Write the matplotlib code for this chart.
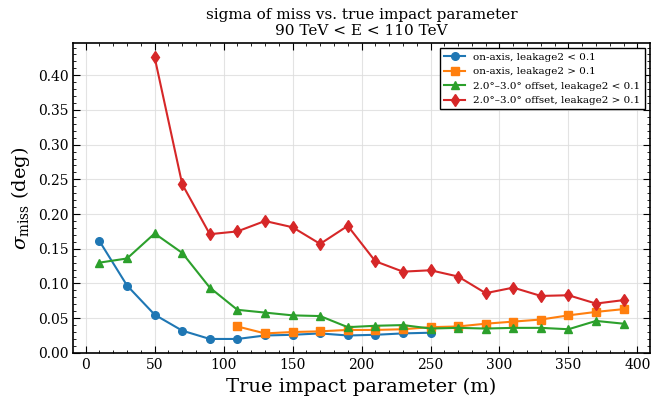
import matplotlib
matplotlib.use("Agg")
import matplotlib.pyplot as plt

plt.rcParams['font.family'] = 'DejaVu Serif'
plt.rcParams['mathtext.fontset'] = 'dejavuserif'

x_all = [10, 30, 50, 70, 90, 110, 130, 150, 170, 190, 210, 230, 250, 270, 290, 310, 330, 350, 370, 390]

x_on_low = [10, 30, 50, 70, 90, 110, 130, 150, 170, 190, 210, 230, 250]
on_low = [0.161, 0.097, 0.055, 0.032, 0.020, 0.020, 0.025, 0.026, 0.028, 0.025, 0.026, 0.028, 0.029]

x_on_high = [110, 130, 150, 170, 190, 210, 230, 250, 270, 290, 310, 330, 350, 370, 390]
on_high = [0.038, 0.028, 0.030, 0.031, 0.033, 0.033, 0.034, 0.037, 0.038, 0.042, 0.045, 0.048, 0.054, 0.059, 0.063]

x_off_low = x_all
off_low = [0.130, 0.136, 0.172, 0.144, 0.094, 0.062, 0.058, 0.054, 0.053, 0.037, 0.039, 0.040, 0.035, 0.036,
           0.035, 0.036, 0.036, 0.034, 0.046, 0.042]

x_off_high = [50, 70, 90, 110, 130, 150, 170, 190, 210, 230, 250, 270, 290, 310, 330, 350, 370, 390]
off_high = [0.426, 0.243, 0.171, 0.175, 0.190, 0.181, 0.157, 0.183, 0.132, 0.117, 0.119, 0.110, 0.086, 0.094,
            0.082, 0.083, 0.071, 0.076]

fig = plt.figure(figsize=(6.72, 3.96), dpi=100)
ax = fig.add_axes([0.109, 0.109, 0.858, 0.782])

ax.plot(x_on_low, on_low, marker='o', color='tab:blue', lw=1.5, ms=5.5, label='on-axis, leakage2 < 0.1')
ax.plot(x_on_high, on_high, marker='s', color='tab:orange', lw=1.5, ms=5.5, label='on-axis, leakage2 > 0.1')
ax.plot(x_off_low, off_low, marker='^', color='tab:green', lw=1.5, ms=6,
        label='2.0°–3.0° offset, leakage2 < 0.1')
ax.plot(x_off_high, off_high, marker='d', color='tab:red', lw=1.5, ms=6,
        label='2.0°–3.0° offset, leakage2 > 0.1')

ax.set_ylim(bottom=0)
ax.grid(True, color='#dddddd', lw=0.8, alpha=0.8)
ax.minorticks_on()
ax.tick_params(which='both', direction='in', top=True, right=True, labelsize=10)
ax.tick_params(which='major', length=5)
ax.tick_params(which='minor', length=2.5)
ax.yaxis.set_major_formatter(matplotlib.ticker.FormatStrFormatter('%.2f'))
for s in ax.spines.values():
    s.set_linewidth(1.2)

ax.set_xlabel('True impact parameter (m)', fontsize=14)
ax.set_ylabel(r'$\sigma_{\rm miss}$ (deg)', fontsize=14)
ax.set_title('sigma of miss vs. true impact parameter\n90 TeV < E < 110 TeV', fontsize=11, linespacing=1.15)

leg = ax.legend(loc='upper right', fontsize=7.5, fancybox=False, edgecolor='black', framealpha=1)
leg.get_frame().set_linewidth(1.0)

fig.savefig('out.png', dpi=100)
